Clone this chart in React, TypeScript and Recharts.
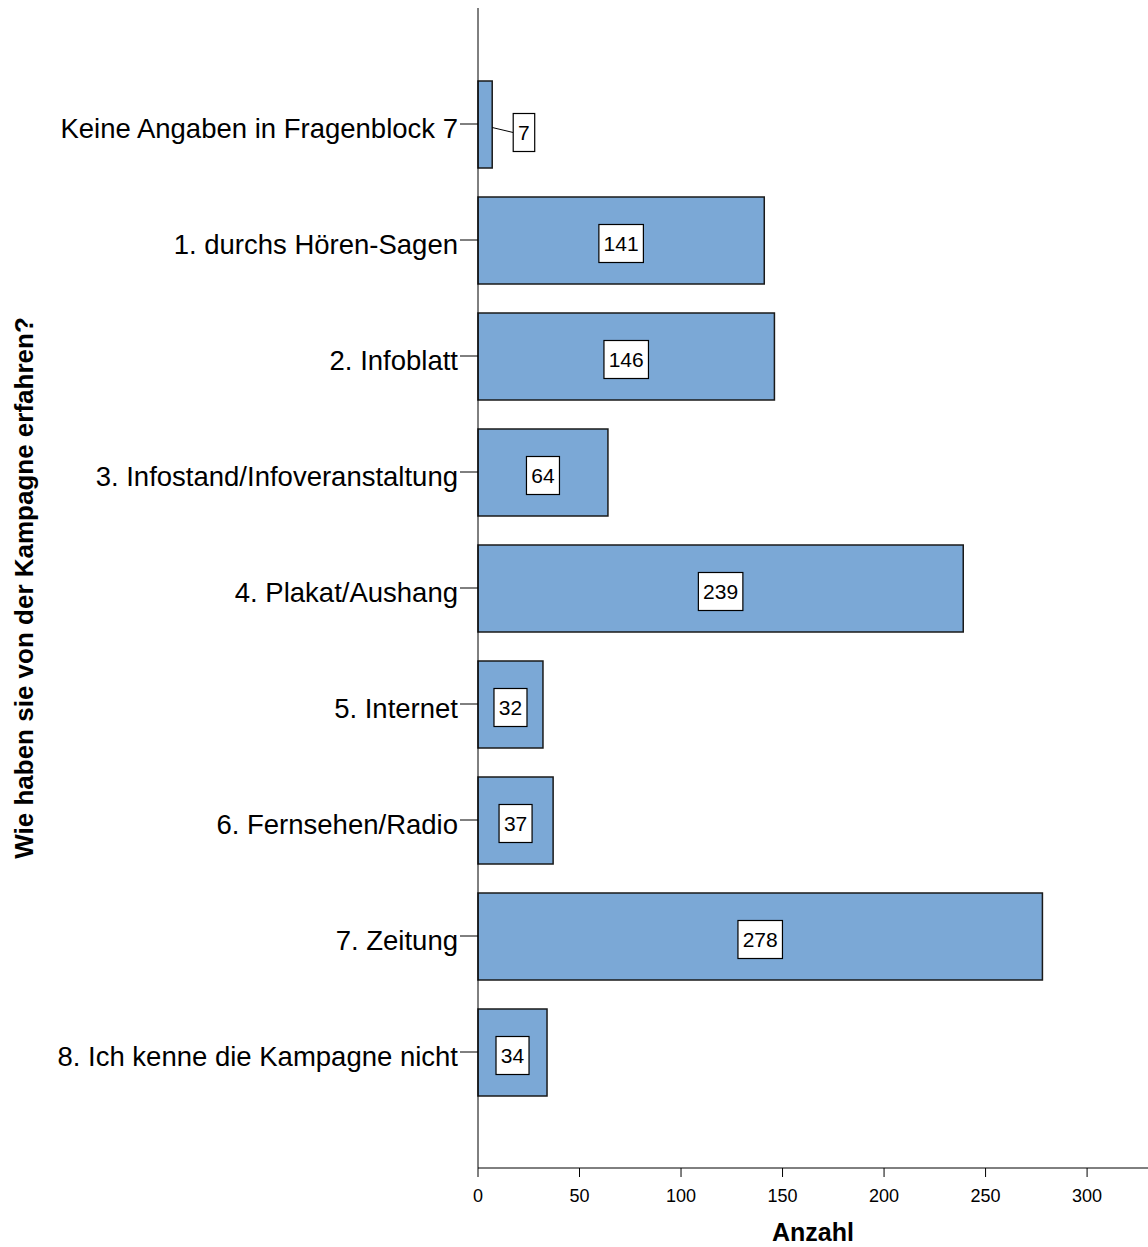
import React from "react";
import { BarChart, Bar, XAxis, YAxis, LabelList } from "recharts";

const categories = [
  "Keine Angaben in Fragenblock 7",
  "1. durchs Hören-Sagen",
  "2. Infoblatt",
  "3. Infostand/Infoveranstaltung",
  "4. Plakat/Aushang",
  "5. Internet",
  "6. Fernsehen/Radio",
  "7. Zeitung",
  "8. Ich kenne die Kampagne nicht",
];
const counts = [7, 141, 146, 64, 239, 32, 37, 278, 34];
const xTicks = [0, 50, 100, 150, 200, 250, 300];

const data = categories.map((name, i) => ({ name, count: counts[i] }));

const FONT = "'Liberation Sans', Arial, sans-serif";

const CategoryTick = (props: any) => {
  const { x, y, payload } = props;
  return (
    <text
      x={x}
      y={y + 14}
      textAnchor="end"
      fontSize={27.5}
      fontFamily={FONT}
      fill="#000"
    >
      {payload.value}
    </text>
  );
};

const ValueBox = (props: any) => {
  const { x, y, width, height, value } = props;
  const text = String(value);
  const boxW = text.length * 11.5 + 10;
  const boxH = 38;
  const cy = y + height / 2;
  const inside = width > boxW + 8;
  const cx = inside ? x + width / 2 : x + width + 21 + boxW / 2;
  const by = inside ? cy + 3 : cy + 8;
  return (
    <g>
      {!inside && (
        <line
          x1={x + width}
          y1={cy + 3}
          x2={cx - boxW / 2}
          y2={cy + 8}
          stroke="#000"
          strokeWidth={1}
        />
      )}
      <rect
        x={cx - boxW / 2}
        y={by - boxH / 2}
        width={boxW}
        height={boxH}
        fill="#fff"
        stroke="#000"
        strokeWidth={1.2}
      />
      <text
        x={cx}
        y={by + 7.5}
        textAnchor="middle"
        fontSize={21}
        fontFamily={FONT}
        fill="#000"
      >
        {text}
      </text>
    </g>
  );
};

export default function App() {
  return (
    <div style={{ position: "absolute", left: 0, top: 0, background: "#fff" }}>
      <BarChart
        width={1148}
        height={1247}
        data={data}
        layout="vertical"
        margin={{ top: 8, right: 0, bottom: 0, left: 0 }}
        barCategoryGap={0}
      >
        <XAxis
          type="number"
          domain={[0, 330]}
          ticks={xTicks}
          height={79}
          stroke="#000"
          tickSize={9}
          tickMargin={12}
          tick={{ fontSize: 18, fill: "#000", fontFamily: FONT }}
          label={{
            value: "Anzahl",
            position: "insideBottom",
            offset: 0,
            fontSize: 25,
            fontWeight: "bold",
            fill: "#000",
            fontFamily: FONT,
            dy: -6,
          }}
        />
        <YAxis
          type="category"
          dataKey="name"
          width={478}
          stroke="#000"
          tickSize={18}
          tickMargin={2}
          padding={{ top: 58, bottom: 58 }}
          tick={CategoryTick}
          label={{
            value: "Wie haben sie von der Kampagne erfahren?",
            angle: -90,
            position: "insideLeft",
            offset: 0,
            dx: 24,
            fontSize: 26,
            fontWeight: "bold",
            fill: "#000",
            fontFamily: FONT,
            style: { textAnchor: "middle" },
          }}
        />
        <Bar
          dataKey="count"
          fill="#7BA8D6"
          stroke="#1a1a1a"
          strokeWidth={1.5}
          barSize={87}
          isAnimationActive={false}
        >
          <LabelList dataKey="count" content={ValueBox} />
        </Bar>
      </BarChart>
    </div>
  );
}
